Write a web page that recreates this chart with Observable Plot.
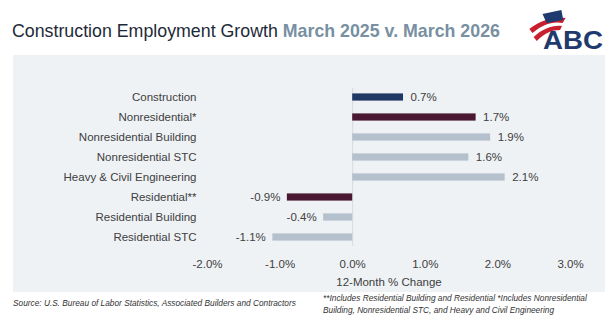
<!DOCTYPE html>
<html>
<head>
<meta charset="utf-8">
<script src="https://cdn.jsdelivr.net/npm/d3@7"></script>
<script src="https://cdn.jsdelivr.net/npm/@observablehq/plot@0.6"></script>
<style>
  html, body { margin: 0; padding: 0; background: #ffffff; }
  #wrap { position: relative; width: 613px; height: 326px; overflow: hidden; font-family: "Liberation Sans", Arial, sans-serif; }
  #title { position: absolute; left: 12px; top: 21px; font-size: 17.8px; color: #1e2a38; white-space: nowrap; }
  #title b { color: #7890a2; }
  #logo { position: absolute; left: 522px; top: 7px; overflow: visible; }
  #chart { position: absolute; left: 13px; top: 55px; }
  .foot { position: absolute; font-size: 8.3px; font-style: italic; color: #333; white-space: nowrap; line-height: 12px; }
</style>
</head>
<body>
<div id="wrap">
  <div id="title">Construction Employment Growth <b>March 2025 v. March 2026</b></div>
  <svg id="logo" width="90" height="46" viewBox="0 0 90 46">
    <g transform="skewX(-12)">
      <path d="M12 22 C22 13, 34 9, 46 11 L44 16 C33 14, 24 18, 16 26 Z" fill="#c8202f"/>
      <path d="M18 30 C26 21, 35 18, 44 19 L43 23 C35 23, 28 26, 22 34 Z" fill="#c8202f"/>
      <path d="M22 7 L40 3 L44 13 L28 16 Z" fill="#1f3a6e"/>
    </g>
    <text x="21" y="42" font-family="Liberation Sans, Arial, sans-serif" font-weight="bold" font-size="26" fill="#1f3a6e" textLength="60" lengthAdjust="spacingAndGlyphs">ABC</text>
  </svg>
  <div id="chart"></div>
  <div class="foot" style="left:13px; top:297px;">Source: U.S. Bureau of Labor Statistics, Associated Builders and Contractors</div>
  <div class="foot" style="left:323px; top:292px;">**Includes Residential Building and Residential *Includes Nonresidential<br>Building, Nonresidential STC, and Heavy and Civil Engineering</div>
</div>
<script>
const categories = ["Construction", "Nonresidential*", "Nonresidential Building", "Nonresidential STC", "Heavy & Civil Engineering", "Residential**", "Residential Building", "Residential STC"];
const values = [0.7, 1.7, 1.9, 1.6, 2.1, -0.9, -0.4, -1.1];
const levels = ["total", "aggregate", "sub", "sub", "sub", "aggregate", "sub", "sub"];
const xTicks = [-2, -1, 0, 1, 2, 3];

const data = categories.map((c, i) => ({category: c, value: values[i], level: levels[i]}));
const fmt = d => d.toFixed(1) + "%";

const chart = Plot.plot({
  width: 592,
  height: 237,
  marginLeft: 194,
  marginRight: 35,
  marginTop: 33,
  marginBottom: 46,
  style: {background: "#eff2f5", fontFamily: "Liberation Sans, Arial, sans-serif", fontSize: "11.5px", color: "#404040"},
  x: {domain: [-2, 3]},
  y: {domain: categories, paddingInner: 0.64, paddingOuter: 0.27, round: false},
  color: {domain: ["total", "aggregate", "sub"], range: ["#1f3864", "#4a1832", "#b4c1cc"]},
  marks: [
    Plot.ruleX([0], {stroke: "#d6d9dd"}),
    Plot.barX(data, {x: "value", y: "category", fill: "level"}),
    Plot.text(data.filter(d => d.value >= 0), {x: "value", y: "category", text: d => fmt(d.value), textAnchor: "start", dx: 7, fill: "#404040", fontSize: 11.5}),
    Plot.text(data.filter(d => d.value < 0), {x: "value", y: "category", text: d => fmt(d.value), textAnchor: "end", dx: -7, fill: "#404040", fontSize: 11.5}),
    Plot.axisY({tickSize: 0, tickPadding: 11, label: null, fill: "#404040"}),
    Plot.axisX({ticks: xTicks, tickFormat: fmt, tickSize: 0, tickPadding: 13, label: "12-Month % Change", labelAnchor: "center", labelArrow: "none", labelOffset: 39, fill: "#404040"})
  ]
});
document.getElementById("chart").appendChild(chart);
</script>
</body>
</html>
